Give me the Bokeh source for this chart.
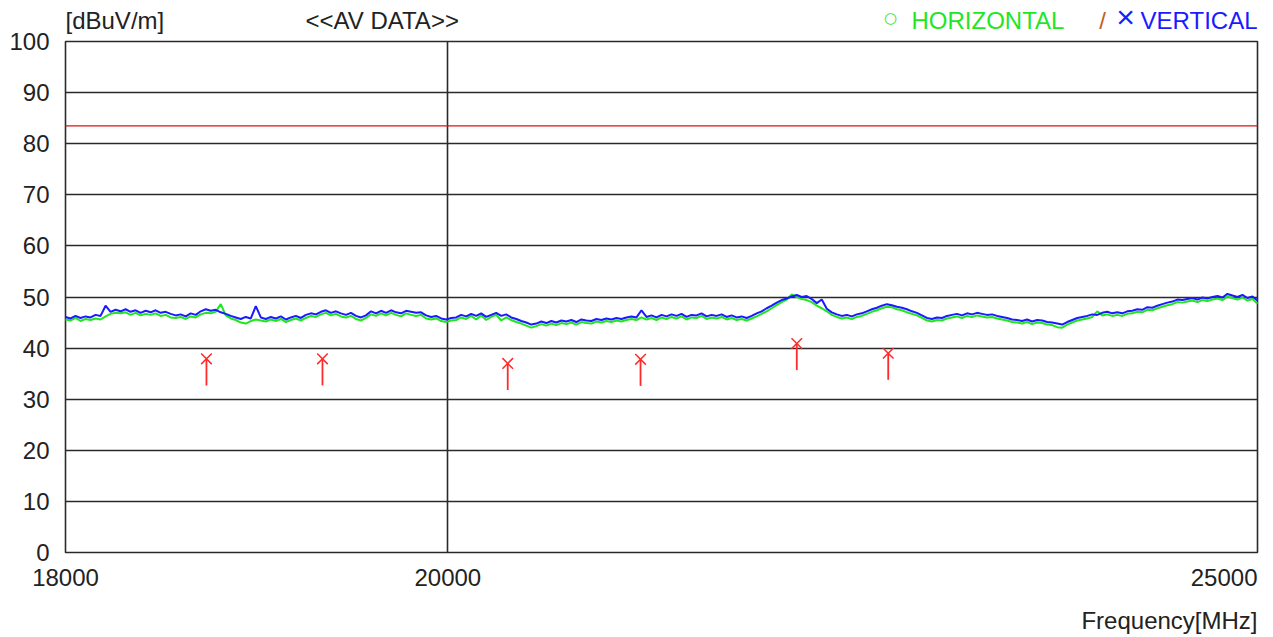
import math
import numpy as np
from bokeh.plotting import figure
from bokeh.models import Range1d, FixedTicker, PrintfTickFormatter, Grid
from bokeh.core.properties import value
from bokeh.embed import file_html
from bokeh.resources import INLINE

# ---------------- data ----------------
FREQ_START = 18000
FREQ_STOP = 25000
Y_TICKS = [0, 10, 20, 30, 40, 50, 60, 70, 80, 90, 100]
X_TICKS = [18000, 20000, 25000]
X_TICK_LABELS = ["18000", "20000", "25000"]
LIMIT_AV = 83.5

VERTICAL = [
    46.1, 45.8, 46.3, 45.9, 46.2, 46.0, 46.5, 46.3, 48.3, 47.1,
    47.5, 47.2, 47.6, 47.1, 47.4, 46.9, 47.3, 47.0, 47.4, 46.9,
    47.1, 46.7, 46.4, 46.6, 46.2, 46.8, 46.5, 47.2, 47.6, 47.3,
    47.5, 47.0, 46.7, 46.3, 46.0, 45.7, 46.1, 45.8, 48.2, 46.0,
    45.7, 46.1, 45.8, 46.2, 45.6, 46.0, 46.3, 45.9, 46.5, 46.8,
    46.6, 47.1, 47.4, 46.9, 47.2, 46.8, 46.5, 46.9, 46.3, 46.0,
    46.4, 47.2, 46.8, 47.3, 46.9, 47.4, 47.0, 46.8, 47.3, 47.1,
    46.9, 47.0, 46.4, 46.1, 46.3, 45.8, 45.6, 45.9, 46.0, 46.5,
    46.2, 46.7, 46.3, 46.8, 46.1, 46.5, 46.9, 46.3, 46.6, 46.0,
    45.7, 45.3, 45.0, 44.6, 44.8, 45.2, 44.9, 45.3, 45.0, 45.4,
    45.2, 45.5, 45.1, 45.6, 45.4, 45.3, 45.7, 45.5, 45.8, 45.6,
    45.9, 45.7, 46.0, 46.2, 46.0, 47.4, 46.1, 46.4, 46.0, 46.5,
    46.2, 46.6, 46.3, 46.7, 46.1, 46.5, 46.4, 46.8, 46.2, 46.5,
    46.3, 46.6, 46.1, 46.4, 46.0, 46.2, 45.9, 46.3, 46.8, 47.2,
    47.8, 48.3, 48.9, 49.4, 49.7, 50.1, 50.4, 50.0, 50.2, 49.6,
    48.8, 49.5, 47.7, 47.0, 46.6, 46.3, 46.5, 46.2, 46.6, 46.8,
    47.2, 47.6, 47.9, 48.3, 48.6, 48.4, 48.1, 47.9, 47.6, 47.2,
    46.9, 46.4, 45.9, 45.7, 46.0, 45.9, 46.3, 46.5, 46.7, 46.4,
    46.8, 46.6, 46.9, 46.7, 46.5, 46.6, 46.3, 46.1, 45.9, 45.6,
    45.5, 45.3, 45.6, 45.2, 45.5, 45.4, 45.1, 45.0, 44.8, 44.6,
    45.1, 45.5, 45.9, 46.1, 46.3, 46.6, 46.5, 46.9, 47.1, 46.8,
    47.0, 46.8, 47.2, 47.3, 47.6, 47.5, 48.0, 47.9, 48.3, 48.6,
    48.9, 49.1, 49.5, 49.4, 49.6, 49.8, 49.5, 49.9, 49.7, 50.0,
    50.2, 49.9, 50.6, 50.3, 50.0, 50.4, 49.8, 50.1, 49.3,
]

HORIZONTAL = [
    45.6, 45.4, 45.9, 45.3, 45.7, 45.5, 45.8, 45.6, 46.2, 46.7,
    46.9, 46.8, 47.0, 46.5, 46.9, 46.4, 46.7, 46.5, 46.8, 46.3,
    46.5, 46.0, 45.9, 46.1, 45.7, 46.2, 46.0, 46.6, 46.9, 46.8,
    47.1, 48.6, 46.4, 45.8, 45.5, 45.0, 44.8, 45.3, 45.6, 45.4,
    45.2, 45.6, 45.3, 45.7, 45.1, 45.5, 45.8, 45.4, 45.9, 46.3,
    46.1, 46.6, 46.9, 46.4, 46.7, 46.2, 46.0, 46.3, 45.7, 45.4,
    45.9, 46.6, 46.3, 46.8, 46.4, 46.9, 46.5, 46.2, 46.8, 46.5,
    46.3, 46.5, 45.8, 45.6, 45.8, 45.3, 45.1, 45.4, 45.5, 46.0,
    45.7, 46.3, 45.6, 46.4, 45.5, 46.1, 46.5, 45.4, 46.0, 45.5,
    45.1, 44.8, 44.4, 44.0, 44.3, 44.7, 44.4, 44.8, 44.5, 44.9,
    44.7, 45.0, 44.6, 45.1, 44.9, 44.8, 45.2, 45.0, 45.3, 45.1,
    45.4, 45.2, 45.5, 45.7, 45.5, 46.0, 45.6, 45.9, 45.5, 46.0,
    45.7, 46.1, 45.8, 46.2, 45.6, 46.0, 45.9, 46.3, 45.7, 46.0,
    45.8, 46.1, 45.6, 45.9, 45.5, 45.7, 45.4, 45.8, 46.2, 46.7,
    47.2, 47.8, 48.4, 49.0, 49.5, 50.5, 50.0, 49.6, 49.4, 49.0,
    48.3, 47.8, 47.2, 46.5, 46.1, 45.8, 46.0, 45.7, 46.1, 46.3,
    46.7, 47.1, 47.4, 47.8, 48.1, 48.0, 47.6, 47.4, 47.0, 46.7,
    46.4, 45.9, 45.4, 45.2, 45.5, 45.4, 45.8, 46.0, 46.2, 45.9,
    46.3, 46.1, 46.4, 46.2, 46.0, 46.1, 45.8, 45.6, 45.4, 45.1,
    45.0, 44.8, 45.1, 44.7, 45.0, 44.9, 44.6, 44.5, 44.1, 44.0,
    44.6, 45.0, 45.4, 45.6, 45.8, 46.1, 47.2, 46.4, 46.6, 46.3,
    46.5, 46.3, 46.7, 46.8, 47.1, 47.0, 47.5, 47.4, 47.8, 48.1,
    48.4, 48.6, 49.0, 48.9, 49.1, 49.3, 49.0, 49.4, 49.2, 49.5,
    49.7, 49.4, 50.1, 49.8, 49.5, 49.9, 49.3, 49.6, 48.7,
]

MARKER_FREQ = [18713, 19321, 20333, 21091, 22019, 22581]
MARKER_LEVEL = [37.9, 37.9, 37.0, 37.8, 40.9, 39.0]

assert len(VERTICAL) == len(HORIZONTAL)

# sweep points of the receiver (log-spaced over the span)
freqs = np.geomspace(FREQ_START, FREQ_STOP, len(VERTICAL))

# ---------------- layout / style ----------------
W, H = 1273, 637
PAD_L, PAD_R, PAD_T, PAD_B = 65, 16, 41, 85   # pixel margins of the plotting box
FONT = "Liberation Sans"
FS = "24px"
TXT = "#222222"
GRID = "#2a2a2a"
GREEN = "#1fe61f"
BLUE = "#1a1aff"
RED = "#ff2a2a"
STEM = 5.2

Y0, Y1 = Y_TICKS[0], Y_TICKS[-1]
# extend the ranges so that the box [FREQ_START..FREQ_STOP] x [Y0..Y1] sits at the margins
lx0, lx1 = math.log10(FREQ_START), math.log10(FREQ_STOP)
kx = (lx1 - lx0) / (W - PAD_L - PAD_R)
ky = (Y1 - Y0) / (H - PAD_T - PAD_B)
x_range = Range1d(10 ** (lx0 - PAD_L * kx), 10 ** (lx1 + PAD_R * kx))
y_range = Range1d(Y0 - PAD_B * ky, Y1 + PAD_T * ky)

p = figure(
    width=W, height=H,
    x_axis_type="log",
    x_range=x_range, y_range=y_range,
    output_backend="svg", toolbar_location=None,
)
p.min_border = 0
p.min_border_left = p.min_border_right = p.min_border_top = p.min_border_bottom = 0
p.background_fill_color = "white"
p.border_fill_color = "white"
p.outline_line_color = None

# y axis, drawn along the left edge of the box
p.yaxis.fixed_location = FREQ_START
p.yaxis.ticker = FixedTicker(ticks=Y_TICKS)
p.yaxis.axis_line_color = None
p.yaxis.major_tick_line_color = None
p.yaxis.minor_tick_line_color = None
p.yaxis.major_tick_out = 0
p.yaxis.major_tick_in = 0
p.yaxis.major_label_standoff = 16
p.yaxis.major_label_text_font = FONT
p.yaxis.major_label_text_font_size = FS
p.yaxis.major_label_text_color = TXT

# x axis, drawn along the bottom edge of the box (last label is right-aligned below)
p.xaxis.fixed_location = Y0
p.xaxis.ticker = FixedTicker(ticks=X_TICKS[:2])
p.xaxis.major_label_overrides = {X_TICKS[0]: X_TICK_LABELS[0], X_TICKS[1]: X_TICK_LABELS[1]}
p.xaxis.formatter = PrintfTickFormatter(format="%d")
p.xaxis.axis_line_color = None
p.xaxis.major_tick_line_color = None
p.xaxis.minor_tick_line_color = None
p.xaxis.major_tick_out = 0
p.xaxis.major_tick_in = 0
p.xaxis.major_label_standoff = 16
p.xaxis.major_label_text_font = FONT
p.xaxis.major_label_text_font_size = FS
p.xaxis.major_label_text_color = TXT

# grids, limited to the box
p.ygrid.ticker = FixedTicker(ticks=Y_TICKS[1:-1])
p.xgrid.ticker = FixedTicker(ticks=[X_TICKS[1]])
for g in (p.ygrid, p.xgrid):
    g.grid_line_color = GRID
    g.grid_line_width = 1.6
if "cross_bounds" in Grid.properties():
    p.ygrid.cross_bounds = (FREQ_START, FREQ_STOP)
    p.xgrid.cross_bounds = (Y0, Y1)
else:
    p.ygrid.visible = False
    p.xgrid.visible = False
    gy = Y_TICKS[1:-1]
    p.segment(x0=[FREQ_START] * len(gy), x1=[FREQ_STOP] * len(gy), y0=gy, y1=gy,
              line_color=GRID, line_width=1.6)
    p.segment(x0=[X_TICKS[1]], x1=[X_TICKS[1]], y0=[Y0], y1=[Y1],
              line_color=GRID, line_width=1.6)

# plotting box
p.quad(left=[FREQ_START], right=[FREQ_STOP], bottom=[Y0], top=[Y1],
       fill_color=None, line_color=GRID, line_width=1.6)

# limit line
p.line([FREQ_START, FREQ_STOP], [LIMIT_AV, LIMIT_AV], line_color="#e01010", line_width=1.3)

# traces
p.line(freqs, HORIZONTAL, line_color=GREEN, line_width=2.0)
p.line(freqs, VERTICAL, line_color=BLUE, line_width=2.0)

# markers
p.segment(x0=MARKER_FREQ, y0=MARKER_LEVEL, x1=MARKER_FREQ,
          y1=[v - STEM for v in MARKER_LEVEL], line_color=RED, line_width=1.8)
p.scatter(MARKER_FREQ, MARKER_LEVEL, marker="x", size=15,
          line_color=RED, line_width=1.5)


def txt(text, x, y, xo, yo, align, color=TXT, size=FS, font=FONT, baseline="middle"):
    p.text(x=[x], y=[y], text=[text], x_offset=xo, y_offset=yo,
           text_align=align, text_baseline=baseline, text_color=color,
           text_font=value(font), text_font_size=value(size))


txt(X_TICK_LABELS[2], X_TICKS[2], Y0, 0, 16, "right", baseline="top")
txt("Frequency[MHz]", FREQ_STOP, Y0, 0, 68, "right")
txt("[dBuV/m]", FREQ_START, Y1, 0, -21, "left")
txt("<<AV DATA>>", FREQ_START, Y1, 240, -21, "left")
txt("\u25cb", FREQ_STOP, Y1, -367, -24, "center", color=GREEN, size="15px", font="DejaVu Sans")
txt("HORIZONTAL", FREQ_STOP, Y1, -346, -21, "left", color=GREEN)
txt("/", FREQ_STOP, Y1, -155, -21, "center", color="#c06020")
txt("\u00d7", FREQ_STOP, Y1, -132, -25, "center", color=BLUE, size="32px")
txt("VERTICAL", FREQ_STOP, Y1, 0, -21, "right", color=BLUE)

open("out.html", "w").write(file_html(p, INLINE))
